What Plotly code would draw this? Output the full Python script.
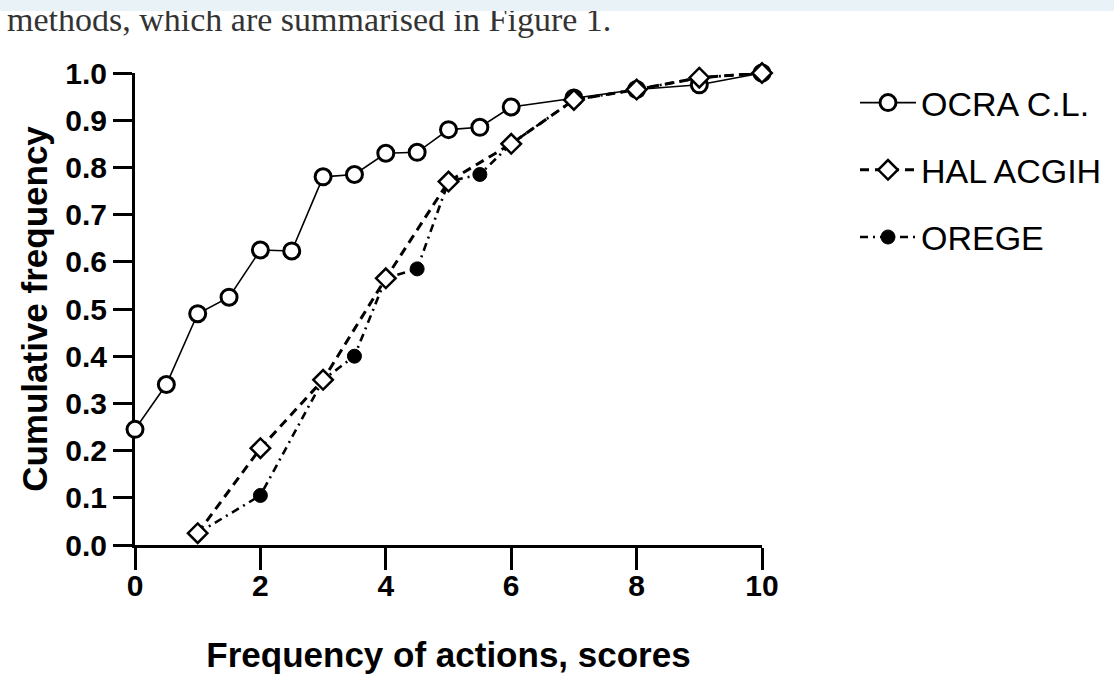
import plotly.graph_objects as go

# ---- data ----
ocra_x = [0, 0.5, 1, 1.5, 2, 2.5, 3, 3.5, 4, 4.5, 5, 5.5, 6, 7, 8, 9, 10]
ocra_y = [0.245, 0.34, 0.49, 0.525, 0.625, 0.623, 0.78, 0.785, 0.83, 0.832, 0.88, 0.885, 0.928, 0.947, 0.965, 0.975, 1.0]

hal_x = [1, 2, 3, 4, 5, 6, 7, 8, 9, 10]
hal_y = [0.025, 0.205, 0.35, 0.565, 0.77, 0.85, 0.943, 0.965, 0.99, 1.0]

orege_x = [1, 2, 3, 3.5, 4, 4.5, 5, 5.5, 6, 7, 8, 9, 10]
orege_y = [0.025, 0.105, 0.35, 0.40, 0.565, 0.585, 0.77, 0.785, 0.85, 0.943, 0.965, 0.99, 1.0]

names = ["OCRA C.L.", "HAL ACGIH", "OREGE"]
x_ticks = [0, 2, 4, 6, 8, 10]
y_ticks = [0.0, 0.1, 0.2, 0.3, 0.4, 0.5, 0.6, 0.7, 0.8, 0.9, 1.0]
x_title = "Frequency of actions, scores"
y_title = "Cumulative frequency"
header_text = "methods, which are summarised in Figure 1."

# ---- layout geometry (pixels) ----
W, H = 1114, 674
L, R, T, B = 135, 1114 - 762, 73, 674 - 545
PW, PH = W - L - R, H - T - B


def px2paper(px, py):
    return (px - L) / PW, (H - B - py) / PH


# OREGE points lying under HAL diamonds get no visible marker
hal_pts = dict(zip(hal_x, hal_y))
orege_vis = [not (x in hal_pts and abs(hal_pts[x] - y) < 0.005) for x, y in zip(orege_x, orege_y)]
orege_mx = [x for x, v in zip(orege_x, orege_vis) if v]
orege_my = [y for y, v in zip(orege_y, orege_vis) if v]

ocra_line = dict(color="black", width=1.6)
ocra_marker = dict(symbol="circle", size=16, color="white", line=dict(color="black", width=3))
hal_line = dict(color="black", width=3, dash="9px,6px")
hal_marker = dict(symbol="diamond", size=15, color="white", line=dict(color="black", width=2.5))
orege_line = dict(color="black", width=2.6, dash="8px,5px,2px,5px")
orege_marker = dict(symbol="circle", size=14, color="black", line=dict(color="black", width=1))

fig = go.Figure()
fig.add_trace(go.Scatter(
    x=ocra_x, y=ocra_y, name=names[0], mode="lines+markers", legendgroup="a", legendrank=1,
    line=ocra_line, marker=ocra_marker, cliponaxis=False))
# OREGE line (all points) and visible markers
fig.add_trace(go.Scatter(
    x=orege_x, y=orege_y, name=names[2], mode="lines", legendgroup="c", showlegend=False,
    line=orege_line, cliponaxis=False))
fig.add_trace(go.Scatter(
    x=orege_mx, y=orege_my, name=names[2], mode="markers", legendgroup="c", showlegend=False,
    marker=orege_marker, cliponaxis=False))
# OREGE legend entry
fig.add_trace(go.Scatter(
    x=[None], y=[None], name=names[2], mode="lines+markers", legendgroup="c", legendrank=3,
    line=orege_line, marker=orege_marker))
fig.add_trace(go.Scatter(
    x=hal_x, y=hal_y, name=names[1], mode="lines+markers", legendgroup="b", legendrank=2,
    line=hal_line, marker=hal_marker, cliponaxis=False))

bold = dict(family="Liberation Sans, Arial, sans-serif", size=30, color="black", weight="bold")
title_font = dict(family="Liberation Sans, Arial, sans-serif", size=35, color="black", weight="bold")

fig.update_xaxes(
    range=[0, 10], tickvals=x_ticks, ticktext=[str(v) for v in x_ticks],
    showgrid=False, zeroline=False, showline=True, linecolor="black", linewidth=3,
    ticks="outside", ticklen=22, tickwidth=3, tickcolor="black",
    tickfont=bold, layer="below traces", ticklabelstandoff=-10,
    title=dict(text=x_title, font=title_font, standoff=42))
fig.update_yaxes(
    range=[0, 1], tickvals=y_ticks, ticktext=[f"{v:.1f}" for v in y_ticks],
    showgrid=False, zeroline=False, showline=True, linecolor="black", linewidth=3,
    ticks="outside", ticklen=19, tickwidth=3, tickcolor="black",
    tickfont=bold, layer="below traces",
    title=dict(text=y_title, font=title_font, standoff=8))

lx, ly = px2paper(855, 74)
hx, hy = px2paper(6, 0)
bx, by = px2paper(0, 0)

fig.update_layout(
    width=W, height=H,
    margin=dict(l=L, r=R, t=T, b=B, autoexpand=False),
    plot_bgcolor="white", paper_bgcolor="white",
    showlegend=True,
    legend=dict(x=lx, y=ly, xanchor="left", yanchor="top",
                font=dict(family="Liberation Sans, Arial, sans-serif", size=34, color="black"),
                traceorder="grouped", tracegroupgap=20, itemwidth=56,
                bgcolor="rgba(0,0,0,0)", borderwidth=0),
    annotations=[
        dict(text=header_text, xref="paper", yref="paper", x=hx, y=hy,
             xanchor="left", yanchor="top", showarrow=False, borderpad=0,
             font=dict(family="Liberation Serif, Times New Roman, serif", size=34, color="#333333")),
        dict(text=" ", xref="paper", yref="paper", x=bx, y=by,
             xanchor="left", yanchor="top", showarrow=False,
             width=W, height=11, bgcolor="#e9f2f6", borderpad=0, borderwidth=0,
             font=dict(size=8)),
    ],
)

fig.write_html("out.html", config={"displayModeBar": False},
               post_script="document.body.style.margin='0px';")
